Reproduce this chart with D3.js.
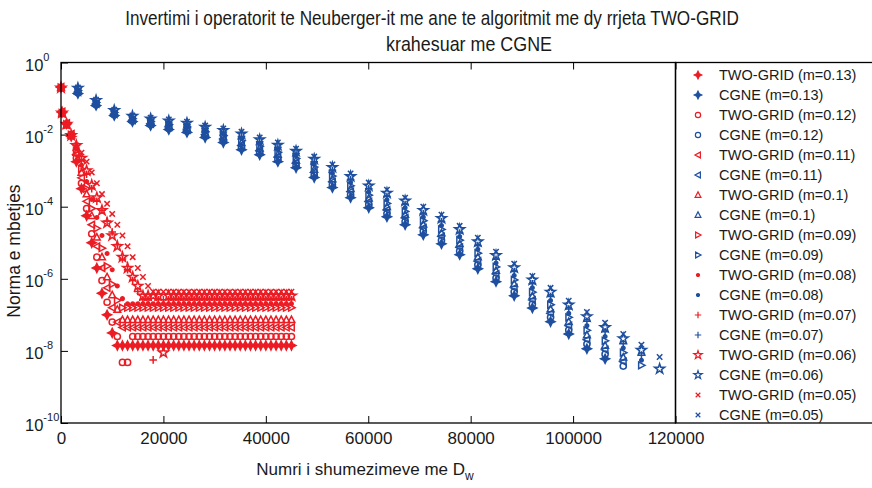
<!DOCTYPE html>
<html>
<head>
<meta charset="utf-8">
<script src="https://cdn.jsdelivr.net/npm/d3@7"></script>
<style>
  body { margin: 0; background: #fff; }
  text { font-family: "Liberation Sans", Arial, sans-serif; fill: #1a1a1a; }
</style>
</head>
<body>
<script>
// m values, legend order (TWO-GRID then CGNE for each m)
var mValues = ["0.13", "0.12", "0.11", "0.1", "0.09", "0.08", "0.07", "0.06", "0.05"];
var markerTypes = ["star4", "circle", "triLeft", "triUp", "triRight", "dot", "plus", "pentagram", "cross"];

var titleLines = ["Invertimi i operatorit te Neuberger-it me ane te algoritmit me dy rrjeta TWO-GRID",
                  "krahesuar me CGNE"];
var xTicks = [0, 20000, 40000, 60000, 80000, 100000, 120000];
var yTickExponents = [0, -2, -4, -6, -8, -10];

// TWO-GRID: x = number of D_w multiplications, values = log10 of residual norm
var twoGridX = [0, 200, 1100, 2000, 3000, 4000, 5000, 6000, 7000, 8000, 9000, 10000, 11000, 12000,
  13000, 14000, 15000, 16000, 17000, 18000, 19000, 20000, 21000, 22000, 23000, 24000, 25000, 26000,
  27000, 28000, 29000, 30000, 31000, 32000, 33000, 34000, 35000, 36000, 37000, 38000, 39000, 40000,
  41000, 42000, 43000, 44000, 45000];

var twoGrid013 = [-0.69, -1.38, -1.70, -2.05, -2.75, -3.50, -4.25, -5.00, -5.70, -6.40, -7.00, -7.50, -7.85,
  -7.85, -7.85, -7.85, -7.85, -7.85, -7.85, -7.85, -7.85, -7.85, -7.85,
  -7.85, -7.85, -7.85, -7.85, -7.85, -7.85, -7.85, -7.85, -7.85, -7.85,
  -7.85, -7.85, -7.85, -7.85, -7.85, -7.85, -7.85, -7.85, -7.85, -7.85,
  -7.85, -7.85, -7.85, -7.85];
var twoGrid012 = [-0.70, -1.40, -1.72, -2.00, -2.65, -3.35, -4.05, -4.75, -5.40, -6.05, -6.65, -7.20, -7.60,
  -8.32, -8.32,
  -7.60, -7.60, -7.60, -7.60, -7.60, -7.60, -7.60, -7.60, -7.60, -7.60,
  -7.60, -7.60, -7.60, -7.60, -7.60, -7.60, -7.60, -7.60, -7.60, -7.60,
  -7.60, -7.60, -7.60, -7.60, -7.60, -7.60, -7.60, -7.60, -7.60, -7.60,
  -7.60, -7.60];
var twoGrid011 = [-0.68, -1.36, -1.68, -1.98, -2.55, -3.20, -3.85, -4.50, -5.10, -5.70, -6.25, -6.80, -7.20, -7.35,
  -7.35, -7.35, -7.35, -7.35, -7.35, -7.35, -7.35, -7.35, -7.35, -7.35,
  -7.35, -7.35, -7.35, -7.35, -7.35, -7.35, -7.35, -7.35, -7.35, -7.35,
  -7.35, -7.35, -7.35, -7.35, -7.35, -7.35, -7.35, -7.35, -7.35, -7.35,
  -7.35, -7.35, -7.35];
var twoGrid010 = [-0.70, -1.42, -1.74, -2.02, -2.50, -3.05, -3.65, -4.25, -4.85, -5.40, -5.95, -6.45, -6.85, -7.14,
  -7.14, -7.14, -7.14, -7.14, -7.14, -7.14, -7.14, -7.14, -7.14, -7.14,
  -7.14, -7.14, -7.14, -7.14, -7.14, -7.14, -7.14, -7.14, -7.14, -7.14,
  -7.14, -7.14, -7.14, -7.14, -7.14, -7.14, -7.14, -7.14, -7.14, -7.14,
  -7.14, -7.14, -7.14];
var twoGrid009 = [-0.69, -1.40, -1.71, -2.00, -2.45, -2.95, -3.50, -4.05, -4.60, -5.15, -5.65, -6.15, -6.60, -6.80,
  -6.80, -6.80, -6.80, -6.80, -6.80, -6.80, -6.80, -6.80, -6.80, -6.80,
  -6.80, -6.80, -6.80, -6.80, -6.80, -6.80, -6.80, -6.80, -6.80, -6.80,
  -6.80, -6.80, -6.80, -6.80, -6.80, -6.80, -6.80, -6.80, -6.80, -6.80,
  -6.80, -6.80, -6.80];
var twoGrid008 = [-0.70, -1.39, -1.73, -2.03, -2.40, -2.85, -3.30, -3.80, -4.30, -4.80, -5.30, -5.75, -6.20, -6.55, -6.69,
  -6.69, -6.69, -6.69, -6.69, -6.69, -6.69, -6.69, -6.69, -6.69, -6.69,
  -6.69, -6.69, -6.69, -6.69, -6.69, -6.69, -6.69, -6.69, -6.69, -6.69,
  -6.69, -6.69, -6.69, -6.69, -6.69, -6.69, -6.69, -6.69, -6.69, -6.69,
  -6.69, -6.69];
var twoGrid007 = [-0.69, -1.41, -1.72, -2.01, -2.30, -2.70, -3.10, -3.50, -3.85, -4.10, -4.40, -4.70, -5.05,
  -5.45, -5.75, -6.05, -6.35, -6.58, -6.58, -8.25,
  -6.58, -6.58, -6.58, -6.58, -6.58, -6.58, -6.58, -6.58, -6.58, -6.58,
  -6.58, -6.58, -6.58, -6.58, -6.58, -6.58, -6.58, -6.58, -6.58, -6.58,
  -6.58, -6.58, -6.58, -6.58, -6.58, -6.58, -6.58];
var twoGrid006 = [-0.70, -1.40, -1.71, -2.02, -2.30, -2.65, -3.00, -3.40, -3.75, -4.10, -4.45, -4.80, -5.10,
  -5.40, -5.70, -5.95, -6.20, -6.47, -6.47, -6.47, -6.47, -8.05,
  -6.47, -6.47, -6.47, -6.47, -6.47, -6.47, -6.47, -6.47, -6.47, -6.47,
  -6.47, -6.47, -6.47, -6.47, -6.47, -6.47, -6.47, -6.47, -6.47, -6.47,
  -6.47, -6.47, -6.47, -6.47, -6.47];
var twoGrid005 = [-0.69, -1.40, -1.75, -2.05, -2.30, -2.50, -2.75, -3.05, -3.35, -3.65, -3.92, -4.20, -4.50,
  -4.80, -5.10, -5.40, -5.70, -5.95, -6.20, -6.36,
  -6.36, -6.36, -6.36, -6.36, -6.36, -6.36, -6.36, -6.36, -6.36, -6.36,
  -6.36, -6.36, -6.36, -6.36, -6.36, -6.36, -6.36, -6.36, -6.36, -6.36,
  -6.36, -6.36, -6.36, -6.36, -6.36, -6.36, -6.36];

// CGNE: one point every ~3550 multiplications, log10 of residual norm
var cgneX = [3300, 6850, 10400, 13950, 17500, 21050, 24600, 28150, 31700, 35250, 38800, 42350, 45900,
  49450, 53000, 56550, 60100, 63650, 67200, 70750, 74300, 77850, 81400, 84950, 88500, 92050, 95600,
  99150, 102700, 106250, 109800, 113350, 116900];

var cgne013 = [-0.86, -1.19, -1.47, -1.64, -1.75, -1.86, -1.94, -2.08, -2.22, -2.42, -2.56, -2.75, -2.92,
  -3.19, -3.47, -3.75, -4.03, -4.28, -4.50, -4.78, -5.03, -5.33, -5.72, -6.08, -6.47, -6.81, -7.19,
  -7.53, -7.94, -8.22];
var cgne012 = [-0.84, -1.17, -1.45, -1.62, -1.72, -1.83, -1.90, -2.04, -2.17, -2.36, -2.50, -2.68, -2.85,
  -3.12, -3.39, -3.67, -3.94, -4.19, -4.41, -4.68, -4.93, -5.23, -5.61, -5.98, -6.36, -6.70, -7.07,
  -7.42, -7.81, -8.09, -8.42];
var cgne011 = [-0.82, -1.15, -1.43, -1.60, -1.70, -1.79, -1.87, -2.00, -2.12, -2.30, -2.44, -2.62, -2.79,
  -3.05, -3.31, -3.58, -3.86, -4.09, -4.31, -4.59, -4.83, -5.13, -5.51, -5.87, -6.25, -6.59, -6.96,
  -7.30, -7.69, -7.97, -8.30];
var cgne010 = [-0.80, -1.13, -1.41, -1.58, -1.67, -1.76, -1.83, -1.96, -2.07, -2.23, -2.38, -2.55, -2.72,
  -2.97, -3.23, -3.50, -3.77, -4.00, -4.22, -4.49, -4.73, -5.03, -5.40, -5.77, -6.14, -6.48, -6.84,
  -7.19, -7.56, -7.85, -8.18];
var cgne009 = [-0.78, -1.11, -1.39, -1.56, -1.64, -1.72, -1.79, -1.92, -2.03, -2.17, -2.32, -2.49, -2.66,
  -2.90, -3.15, -3.42, -3.68, -3.91, -4.13, -4.39, -4.63, -4.93, -5.29, -5.67, -6.03, -6.37, -6.72,
  -7.07, -7.43, -7.72, -8.05, -8.40];
var cgne008 = [-0.75, -1.09, -1.37, -1.53, -1.61, -1.69, -1.75, -1.87, -1.98, -2.11, -2.26, -2.42, -2.59,
  -2.83, -3.07, -3.33, -3.59, -3.81, -4.03, -4.29, -4.52, -4.83, -5.18, -5.56, -5.91, -6.25, -6.60,
  -6.96, -7.30, -7.60, -7.92, -8.26];
var cgne007 = [-0.73, -1.07, -1.35, -1.51, -1.59, -1.65, -1.72, -1.83, -1.93, -2.05, -2.20, -2.35, -2.52,
  -2.75, -2.99, -3.25, -3.50, -3.72, -3.94, -4.20, -4.42, -4.73, -5.08, -5.46, -5.80, -6.14, -6.49,
  -6.84, -7.18, -7.47, -7.80, -8.12];
var cgne006 = [-0.71, -1.05, -1.33, -1.49, -1.56, -1.62, -1.68, -1.79, -1.88, -1.98, -2.14, -2.29, -2.46,
  -2.68, -2.91, -3.16, -3.42, -3.62, -3.84, -4.10, -4.32, -4.63, -4.97, -5.35, -5.69, -6.03, -6.37,
  -6.72, -7.05, -7.35, -7.66, -7.98, -8.50];
var cgne005 = [-0.69, -1.03, -1.31, -1.47, -1.53, -1.58, -1.64, -1.75, -1.83, -1.92, -2.08, -2.22, -2.39,
  -2.61, -2.83, -3.08, -3.33, -3.53, -3.75, -4.00, -4.22, -4.53, -4.86, -5.25, -5.58, -5.92, -6.25,
  -6.61, -6.92, -7.22, -7.53, -7.83, -8.17];

var twoGridSeries = [twoGrid013, twoGrid012, twoGrid011, twoGrid010, twoGrid009, twoGrid008, twoGrid007, twoGrid006, twoGrid005];
var cgneSeries = [cgne013, cgne012, cgne011, cgne010, cgne009, cgne008, cgne007, cgne006, cgne005];

var red = "#ec1c24";
var blue = "#1f4f9f";

function markerPath(type) {
  switch (type) {
    case "star4": return "M0,-4.5L1.5,-1.5L4.5,0L1.5,1.5L0,4.5L-1.5,1.5L-4.5,0L-1.5,-1.5Z";
    case "circle": return d3.symbol(d3.symbolCircle, 30)();
    case "triLeft": return "M-3.6,0L2.8,-3.4L2.8,3.4Z";
    case "triUp": return "M0,-3.7L3.4,2.7L-3.4,2.7Z";
    case "triRight": return "M3.6,0L-2.8,-3.4L-2.8,3.4Z";
    case "dot": return d3.symbol(d3.symbolCircle, 10)();
    case "plus": return "M-3.8,0H3.8M0,-3.8V3.8";
    case "pentagram": return d3.symbol(d3.symbolStar, 30)();
    case "cross": return "M-2.7,-2.7L2.7,2.7M-2.7,2.7L2.7,-2.7";
  }
}
function isFilled(type) { return type === "star4" || type === "dot"; }

function drawChart() {
  var width = 872, height = 488;
  var left = 61, right = 675.5, top = 62.5, bottom = 423;

  var svg = d3.select("body").append("svg")
    .attr("width", width)
    .attr("height", height);

  var x = d3.scaleLinear().domain([0, 120000]).range([left, right]);
  var y = d3.scaleLog().domain([1e-10, 1]).range([bottom, top]);

  // title, squeezed to the narrow look of the original
  var t1 = svg.append("text").style("font-size", "20px").attr("text-anchor", "middle").text(titleLines[0]);
  t1.attr("transform", "translate(432,25) scale(" + (614 / t1.node().getComputedTextLength()) + ",1)");
  var t2 = svg.append("text").style("font-size", "20px").attr("text-anchor", "middle").text(titleLines[1]);
  t2.attr("transform", "translate(469,51) scale(" + (166 / t2.node().getComputedTextLength()) + ",1)");

  // data
  var plot = svg.append("g");
  function drawSeries(xs, vals, type, color) {
    var pts = vals.map(function (v, i) { return { x: xs[i], y: Math.pow(10, v) }; });
    plot.append("g")
      .selectAll("path")
      .data(pts)
      .enter()
      .append("path")
        .attr("transform", function (d) { return "translate(" + x(d.x) + "," + y(d.y) + ")"; })
        .attr("d", markerPath(type))
        .attr("fill", isFilled(type) ? color : "none")
        .attr("stroke", color)
        .attr("stroke-width", 1.5);
  }
  for (var i = 0; i < mValues.length; i++) {
    drawSeries(twoGridX, twoGridSeries[i], markerTypes[i], red);
    drawSeries(cgneX, cgneSeries[i], markerTypes[i], blue);
  }

  // axes with inward ticks
  svg.append("g")
    .attr("transform", "translate(0," + bottom + ")")
    .call(d3.axisBottom(x).tickValues(xTicks).tickSize(-7).tickSizeOuter(0).tickPadding(9).tickFormat(d3.format("d")))
    .call(function (g) {
      g.select(".domain").remove();
      g.selectAll("text").style("font-size", "17px").attr("fill", "#1a1a1a").style("font-family", "Liberation Sans, Arial, sans-serif");
    });
  svg.append("g")
    .attr("transform", "translate(0," + top + ")")
    .call(d3.axisTop(x).tickValues(xTicks).tickSize(-7).tickSizeOuter(0).tickFormat(""))
    .call(function (g) { g.select(".domain").remove(); });
  var yTickVals = yTickExponents.map(function (e) { return Math.pow(10, e); });
  svg.append("g")
    .attr("transform", "translate(" + left + ",0)")
    .call(d3.axisLeft(y).tickValues(yTickVals).tickSize(-7).tickSizeOuter(0).tickFormat(""))
    .call(function (g) { g.select(".domain").remove(); });

  // y tick labels with superscripts
  yTickExponents.forEach(function (e) {
    var ty = y(Math.pow(10, e));
    var t = svg.append("text").attr("x", 25).attr("y", ty + 8).style("font-size", "16.5px");
    t.append("tspan").text("10");
    t.append("tspan").attr("dy", -10).style("font-size", "11px").text(e === 0 ? "0" : "-" + (-e));
  });

  // frame + legend box
  svg.append("rect")
    .attr("x", left).attr("y", top)
    .attr("width", right - left).attr("height", bottom - top)
    .attr("fill", "none").attr("stroke", "#000").attr("stroke-width", 1.3);
  svg.append("rect")
    .attr("x", right).attr("y", top)
    .attr("width", 220).attr("height", bottom - top)
    .attr("fill", "none").attr("stroke", "#000").attr("stroke-width", 1.3);

  // legend
  var legend = svg.append("g");
  var row = 0;
  mValues.forEach(function (m, i) {
    [["TWO-GRID", red], ["CGNE", blue]].forEach(function (entry) {
      var cy = 75 + row * 20;
      legend.append("path")
        .attr("transform", "translate(698," + cy + ") scale(0.85)")
        .attr("d", markerPath(markerTypes[i]))
        .attr("fill", isFilled(markerTypes[i]) ? entry[1] : "none")
        .attr("stroke", entry[1])
        .attr("stroke-width", 1.4);
      legend.append("text")
        .attr("x", 719).attr("y", cy + 5)
        .style("font-size", "14.5px")
        .text(entry[0] + " (m=" + m + ")");
      row++;
    });
  });

  // axis labels
  svg.append("text")
    .attr("transform", "translate(20,251) rotate(-90)")
    .attr("text-anchor", "middle")
    .style("font-size", "17.5px")
    .text("Norma e mbetjes");
  var xl = svg.append("text")
    .attr("x", 365).attr("y", 475)
    .attr("text-anchor", "middle")
    .style("font-size", "17px");
  xl.append("tspan").text("Numri i shumezimeve me D");
  xl.append("tspan").attr("dy", 5).style("font-size", "12px").text("w");
}

drawChart();
</script>
</body>
</html>
